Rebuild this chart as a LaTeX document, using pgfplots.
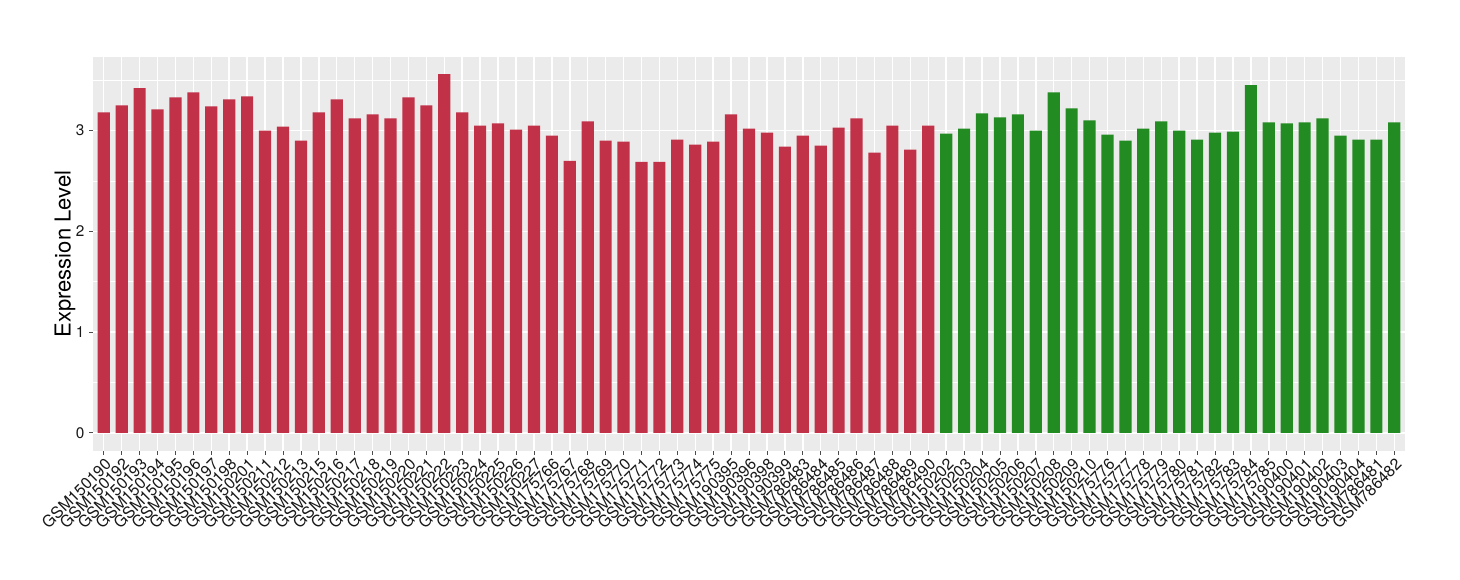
\documentclass[border=0pt]{standalone}
\usepackage{pgfplots}
\pgfplotsset{compat=1.18}
\usepackage{fontspec}
\setmainfont{TeX Gyre Heros}
\definecolor{ggbg}{HTML}{EBEBEB}
\definecolor{redbar}{RGB}{193,49,72}
\definecolor{greenbar}{RGB}{34,139,34}
\begin{document}
\begin{tikzpicture}
\path[use as bounding box] (0,0) rectangle (1095pt,435pt);
\begin{axis}[
  at={(69.75pt,96.75pt)}, anchor=south west,
  scale only axis, width=984pt, height=295.5pt,
  xmin=-0.6, xmax=72.6, ymin=-0.18, ymax=3.73,
  axis background/.style={fill=ggbg},
  axis line style={draw=none},
  xtick={0,...,72},
  xticklabels={GSM150190,GSM150192,GSM150193,GSM150194,GSM150195,GSM150196,GSM150197,GSM150198,GSM150201,GSM150211,GSM150212,GSM150213,GSM150215,GSM150216,GSM150217,GSM150218,GSM150219,GSM150220,GSM150221,GSM150222,GSM150223,GSM150224,GSM150225,GSM150226,GSM150227,GSM175766,GSM175767,GSM175768,GSM175769,GSM175770,GSM175771,GSM175772,GSM175773,GSM175774,GSM175775,GSM190395,GSM190396,GSM190398,GSM190399,GSM786483,GSM786484,GSM786485,GSM786486,GSM786487,GSM786488,GSM786489,GSM786490,GSM150202,GSM150203,GSM150204,GSM150205,GSM150206,GSM150207,GSM150208,GSM150209,GSM150210,GSM175776,GSM175777,GSM175778,GSM175779,GSM175780,GSM175781,GSM175782,GSM175783,GSM175784,GSM175785,GSM190400,GSM190401,GSM190402,GSM190403,GSM190404,GSM786481,GSM786482},
  ytick={0,1,2,3},
  minor ytick={0.5,1.5,2.5,3.5},
  grid=both,
  major grid style={white, line width=1.1pt},
  minor grid style={white, line width=0.55pt},
  minor tick length=0pt,
  tick align=outside,
  major tick length=3pt,
  xtick pos=bottom, ytick pos=left,
  tick style={draw=black!70, line width=0.6pt},
  x tick label style={rotate=45, anchor=north east, font=\fontsize{12}{14}\selectfont, inner sep=1pt, text=black!90},
  y tick label style={font=\fontsize{11.5}{13}\selectfont, text=black!90},
  /pgf/number format/assume math mode=true,
  ylabel={Expression Level},
  ylabel style={at={(axis description cs:-0.0213,0.5)}, anchor=center, font=\fontsize{16.5}{18}\selectfont},
  ybar, bar width=0.68, bar shift=0pt,
]
\addplot[fill=redbar, draw=none] coordinates {
(0,3.18) (1,3.25) (2,3.42) (3,3.21) (4,3.33) (5,3.38) (6,3.24) (7,3.31) (8,3.34) (9,3.00)
(10,3.04) (11,2.90) (12,3.18) (13,3.31) (14,3.12) (15,3.16) (16,3.12) (17,3.33) (18,3.25) (19,3.56)
(20,3.18) (21,3.05) (22,3.07) (23,3.01) (24,3.05) (25,2.95) (26,2.70) (27,3.09) (28,2.90) (29,2.89)
(30,2.69) (31,2.69) (32,2.91) (33,2.86) (34,2.89) (35,3.16) (36,3.02) (37,2.98) (38,2.84) (39,2.95)
(40,2.85) (41,3.03) (42,3.12) (43,2.78) (44,3.05) (45,2.81) (46,3.05)
};
\addplot[fill=greenbar, draw=none] coordinates {
(47,2.97) (48,3.02) (49,3.17) (50,3.13) (51,3.16) (52,3.00) (53,3.38) (54,3.22) (55,3.10) (56,2.96)
(57,2.90) (58,3.02) (59,3.09) (60,3.00) (61,2.91) (62,2.98) (63,2.99) (64,3.45) (65,3.08) (66,3.07)
(67,3.08) (68,3.12) (69,2.95) (70,2.91) (71,2.91) (72,3.08)
};
\end{axis}
\end{tikzpicture}
\end{document}
